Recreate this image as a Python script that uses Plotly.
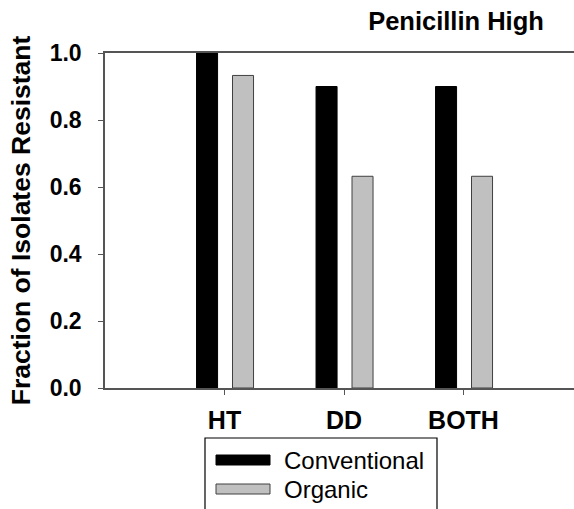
import plotly.graph_objects as go

categories = ["HT", "DD", "BOTH"]
series_names = ["Conventional", "Organic"]
conventional = [1.0, 0.90, 0.90]
organic = [0.933, 0.632, 0.632]
y_ticks = [0.0, 0.2, 0.4, 0.6, 0.8, 1.0]
y_tick_labels = ["0.0", "0.2", "0.4", "0.6", "0.8", "1.0"]
title_text = "Penicillin High"
y_title = "Fraction of Isolates Resistant"

FONT = "Liberation Sans, Arial, sans-serif"
W, H = 574, 509
L, R, T, B = 105, 0, 53, 121
PW, PH = W - L - R, H - T - B

def px_x(px):
    return (px - L) / PW

def px_y(py):
    return (H - B - py) / PH

xpos = [i + 1 for i in range(len(categories))]

fig = go.Figure()
fig.add_trace(go.Bar(
    x=xpos, y=conventional, name=series_names[0],
    width=0.176, offset=-0.234,
    marker=dict(color="black", line=dict(color="black", width=1)),
    showlegend=False,
))
fig.add_trace(go.Bar(
    x=xpos, y=organic, name=series_names[1],
    width=0.176, offset=0.067,
    marker=dict(color="#c0c0c0", line=dict(color="#404040", width=1)),
    showlegend=False,
))

shapes = [
    dict(type="rect", xref="paper", yref="paper",
         x0=px_x(205), x1=px_x(437), y0=px_y(540), y1=px_y(438),
         line=dict(color="black", width=1.2), fillcolor="white", layer="above"),
    dict(type="rect", xref="paper", yref="paper",
         x0=px_x(216), x1=px_x(270), y0=px_y(465), y1=px_y(455),
         line=dict(color="black", width=1), fillcolor="black", layer="above"),
    dict(type="rect", xref="paper", yref="paper",
         x0=px_x(216), x1=px_x(270), y0=px_y(494), y1=px_y(484),
         line=dict(color="#404040", width=1), fillcolor="#c0c0c0", layer="above"),
]
annotations = [
    dict(text=series_names[0], xref="paper", yref="paper", x=px_x(282), y=px_y(460),
         xanchor="left", yanchor="middle", showarrow=False,
         font=dict(family=FONT, size=24, color="black")),
    dict(text=series_names[1], xref="paper", yref="paper", x=px_x(282), y=px_y(489),
         xanchor="left", yanchor="middle", showarrow=False,
         font=dict(family=FONT, size=24, color="black")),
]

fig.update_layout(
    width=W, height=H,
    margin=dict(l=L, r=R, t=T, b=B, pad=0),
    paper_bgcolor="white", plot_bgcolor="white",
    barmode="overlay",
    font=dict(family=FONT, color="black"),
    title=dict(text="<b>" + title_text + "</b>", x=456 / W, y=1 - 21 / H,
               xanchor="center", yanchor="middle",
               font=dict(family=FONT, size=25.5, color="black")),
    shapes=shapes,
    annotations=annotations,
    showlegend=False,
)
fig.update_xaxes(
    range=[0, PW / 119.5], tickvals=xpos,
    ticktext=["<b>" + c + "</b>" for c in categories],
    tickfont=dict(family=FONT, size=25, color="black"),
    ticks="outside", ticklen=5, tickcolor="#555", tickwidth=1,
    showline=True, linecolor="#555", linewidth=1.5, mirror=True,
    showgrid=False, zeroline=False, ticklabelstandoff=4,
)
fig.update_yaxes(
    range=[0, 1], tickvals=y_ticks,
    ticktext=["<b>" + t + "</b>" for t in y_tick_labels],
    tickfont=dict(family=FONT, size=23, color="black"),
    ticks="outside", ticklen=5, tickcolor="#555", tickwidth=1,
    showline=True, linecolor="#555", linewidth=1.5,
    showgrid=False, zeroline=False, ticklabelstandoff=12,
    title=dict(text="<b>" + y_title + "</b>", standoff=11,
               font=dict(family=FONT, size=26.5, color="black")),
)

fig.write_html(
    "out.html",
    config={"displayModeBar": False},
    post_script="document.body.style.margin='0';document.body.style.overflow='hidden';",
)
